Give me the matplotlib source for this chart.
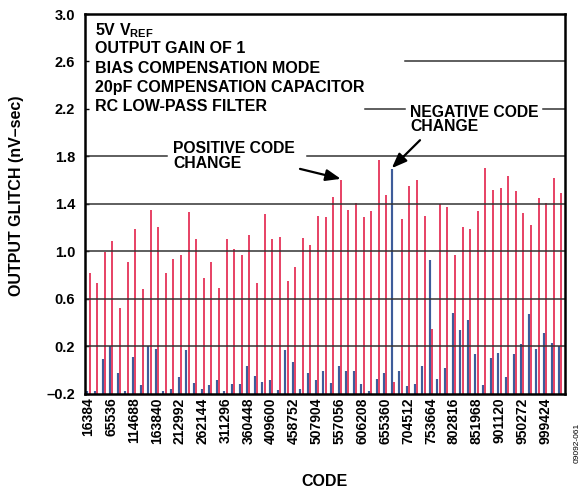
import numpy as np
import matplotlib
matplotlib.use("Agg")
import matplotlib.pyplot as plt

plt.rcParams["font.family"] = ["Liberation Sans", "DejaVu Sans"]
plt.rcParams["font.weight"] = "bold"
plt.rcParams["mathtext.fontset"] = "custom"
plt.rcParams["mathtext.rm"] = "Liberation Sans:bold"
plt.rcParams["mathtext.it"] = "Liberation Sans:bold"
plt.rcParams["mathtext.bf"] = "Liberation Sans:bold"

# glitch energy per major code transition (nV-sec)
step = 16384
codes = step * np.arange(1, 64)

positive_change = [
    0.82, 0.73, 0.99, 1.09, 0.52, 0.91, 1.19, 0.68, 1.35, 1.20, 0.82, 0.93, 0.97, 1.33, 1.10, 0.77,
    0.91, 0.69, 1.10, 1.02, 0.97, 1.14, 0.73, 1.31, 1.10, 1.12, 0.75, 0.87, 1.11, 1.05, 1.30, 1.29,
    1.46, 1.60, 1.35, 1.41, 1.29, 1.34, 1.77, 1.47, -0.10, 1.27, 1.55, 1.60, 1.30, 0.34, 1.40,
    1.37, 0.97, 1.20, 1.19, 1.34, 1.70, 1.52, 1.53, 1.63, 1.51, 1.32, 1.22, 1.45, 1.41, 1.62, 1.49,
]
negative_change = [
    -0.18, -0.18, 0.09, 0.20, -0.03, -0.18, 0.11, -0.13, 0.20, 0.175, -0.18, -0.16, -0.06, 0.165, -0.11, -0.16,
    -0.13, -0.09, -0.18, -0.12, -0.12, 0.03, -0.05, -0.10, -0.09, -0.17, 0.165, 0.065, -0.16, -0.03, -0.09, -0.01,
    -0.11, 0.03, -0.01, -0.01, -0.12, -0.18, -0.08, -0.03, 1.69, -0.01, -0.14, -0.12, 0.03, 0.925, -0.08,
    0.015, 0.48, 0.335, 0.42, 0.135, -0.13, 0.10, 0.14, -0.06, 0.135, 0.215, 0.47, 0.175, 0.31, 0.225, 0.20,
]
tick_codes = codes[::3]

pos = np.array(positive_change)
neg = np.array(negative_change)
ymin, ymax = -0.2, 3.0

red = "#E63A5E"
blue = "#3E5C9A"

fig = plt.figure(figsize=(5.88, 4.93), dpi=100)
ax = fig.add_axes([85 / 588, 1 - 393.5 / 493, 480 / 588, 379.5 / 493])

# each transition drawn as a thin bar rising from the bottom of the scale
ax.vlines(codes - 0.15 * step, ymin, neg, colors=blue, linewidth=1.55, zorder=2)
ax.vlines(codes + 0.15 * step, ymin, pos, colors=red, linewidth=1.35, zorder=2)

ax.set_xlim(0.54 * step, 63.61 * step)
ax.set_ylim(ymin, ymax)

# grid lines, broken where the notes sit
grid_kw = dict(color="#333333", linewidth=1.1, zorder=3)
for v in (0.2, 0.6, 1.0, 1.4):
    ax.axhline(v, **grid_kw)
ax.axhline(1.8, xmax=0.171, **grid_kw)
ax.axhline(1.8, xmin=0.4625, **grid_kw)
ax.axhline(2.2, xmin=0.583, xmax=0.667, **grid_kw)
ax.axhline(2.2, xmin=0.954, **grid_kw)
ax.axhline(2.6, xmin=0.667, **grid_kw)

yt = np.arange(-0.2, 3.01, 0.4)
ax.set_yticks(yt)
ax.set_yticklabels([f"{v:.1f}".replace("-", "\u2013") for v in yt], fontsize=10.5, fontweight="bold")
ax.set_xticks(tick_codes)
ax.set_xticklabels([str(c) for c in tick_codes], rotation=90, fontsize=10, fontweight="bold")
ax.tick_params(axis="x", length=0, pad=3)
ax.tick_params(axis="y", direction="in", length=3, width=1, pad=7)

for s in ax.spines.values():
    s.set_linewidth(1.8)
    s.set_zorder(4)

ax.set_ylabel("OUTPUT GLITCH (nV\u2013sec)", fontsize=11.5, fontweight="bold")
ax.yaxis.set_label_coords(-0.127, 0.52)
ax.set_xlabel("CODE", fontsize=11.5, fontweight="bold")
ax.xaxis.set_label_coords(0.5, -0.212)

# test conditions
notes = ["5V V$_{REF}$", "OUTPUT GAIN OF 1", "BIAS COMPENSATION MODE",
         "20pF COMPENSATION CAPACITOR", "RC LOW-PASS FILTER"]
baselines = [35.3, 52.7, 72.7, 92.0, 111.0]
for txt, b in zip(notes, baselines):
    ax.text(0.021, (393.5 - b) / 379.5, txt, transform=ax.transAxes,
            fontsize=11.5, fontweight="bold", va="baseline", ha="left")

arrow_kw = dict(arrowstyle="-|>,head_length=0.9,head_width=0.35", color="black",
                lw=1.6, shrinkA=0, shrinkB=0)
ax.annotate("", xy=(34 * step + 0.15 * step, 1.61), xytext=(28.79 * step, 1.694),
            arrowprops=arrow_kw)
ax.annotate("", xy=(41 * step - 0.15 * step, 1.70), xytext=(44.56 * step, 1.936),
            arrowprops=arrow_kw)
ax.text(12.1 * step, 1.925, "POSITIVE CODE\nCHANGE", fontsize=11.3, fontweight="bold",
        va="top", ha="left", linespacing=0.95)
ax.text(43.25 * step, 2.235, "NEGATIVE CODE\nCHANGE", fontsize=11.3, fontweight="bold",
        va="top", ha="left", linespacing=0.95)

fig.text(577 / 588, 1 - 443 / 493, "09092-061", rotation=90, fontsize=6,
         fontweight="normal", ha="center", va="center")

fig.savefig("out.png", dpi=100)
